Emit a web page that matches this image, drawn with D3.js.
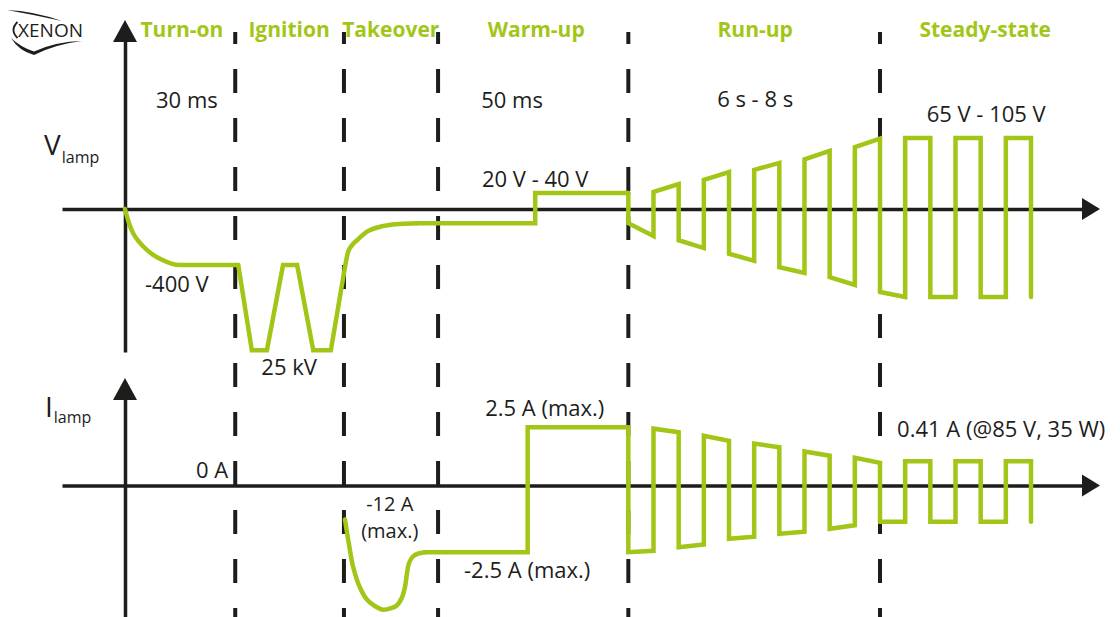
<!DOCTYPE html>
<html>
<head>
<meta charset="utf-8">
<script src="https://cdn.jsdelivr.net/npm/d3@7"></script>
<style>
  html, body { margin: 0; padding: 0; background: #ffffff; }
  svg { display: block; }
  text { font-family: "Open Sans", "Noto Sans", sans-serif; }
</style>
</head>
<body>
<svg id="chart" width="1120" height="617"></svg>
<script>
// ---- Operating phases of an HID xenon lamp (schematic time units) ----
const phaseNames   = ["Turn-on", "Ignition", "Takeover", "Warm-up", "Run-up", "Steady-state"];
const phaseCentres = [11.3, 32.6, 52.8, 81.7, 125.2, 170.9];
const phaseBounds  = [21.9, 43.5, 62.2, 100, 150];

// ---- Lamp voltage, schematic level units: [time, level] ----
const vTurnOn   = [[0, 0], [0.8, -2.0], [1.6, -3.4], [2.9, -4.7], [4.4, -5.8], [5.9, -6.6],
                   [7.5, -7.2], [9.2, -7.7], [10.9, -7.9], [22.5, -7.9]];
const vIgnition = [[22.5, -7.9], [25.2, -19.9], [28.2, -19.9], [31.4, -7.9], [34.2, -7.9],
                   [37.4, -19.9], [40.9, -19.9], [43.7, -8.2]];
const vTakeover = [[43.7, -8.2], [44.3, -6.1], [45.1, -5.1], [46.1, -4.4], [48.1, -3.2],
                   [50.7, -2.5], [54.6, -2.1], [58, -2]];
const vWarmUp   = [[58, -2], [81.5, -2], [81.5, 2.25], [100, 2.25]];
const vRunUp    = [[100, 2.25], [100, -2], [105, -3.8], [105, 2.4], [110, 3.5], [110, -4.4],
                   [115, -5.5], [115, 4.1], [120, 5.2], [120, -6.3], [125, -7.3], [125, 5.5],
                   [130, 6.5], [130, -8.2], [135, -9.0], [135, 7.0], [140, 8.2], [140, -9.6],
                   [145, -10.7], [145, 8.7], [150, 9.9], [150, -11.7]];
const vSteady   = [[150, -11.7], [155, -12.4], [155, 10], [160, 10], [160, -12.4], [165, -12.4],
                   [165, 10], [170, 10], [170, -12.4], [175, -12.4], [175, 10], [180, 10], [180, -12.4]];

// ---- Lamp current, schematic level units: [time, level] ----
const iTakeover = [[43.7, -4.8], [44.5, -8.3], [45.3, -11.4], [46.7, -14.4], [48.1, -16.1],
                   [49.7, -17.0], [51.3, -17.5], [52.8, -17.3], [54.0, -16.9], [55.0, -15.8],
                   [55.6, -14.4], [56.0, -12.5], [56.4, -11.0], [57.2, -10.0], [58.2, -9.6], [59.6, -9.4]];
const iWarmUp   = [[59.6, -9.4], [80, -9.4], [80, 8.2], [100, 8.2]];
const iRunUp    = [[100, 8.2], [100, -9.4], [105, -9.2], [105, 8.0], [110, 7.5], [110, -8.7],
                   [115, -8.3], [115, 7.0], [120, 6.3], [120, -7.5], [125, -7.2], [125, 5.9],
                   [130, 5.4], [130, -6.8], [135, -6.5], [135, 4.8], [140, 4.2], [140, -6.1],
                   [145, -5.6], [145, 3.9], [150, 3.2], [150, -5.1]];
const iSteady   = [[150, -5.1], [155, -5.1], [155, 3.4], [160, 3.4], [160, -5.1], [165, -5.1],
                   [165, 3.4], [170, 3.4], [170, -5.1], [175, -5.1], [175, 3.4], [180, 3.4], [180, -5.1]];

// ---- Annotation texts ----
const vNotes = [
  { text: "30 ms",        t: 12.3,  v: 14.2,  anchor: "middle", size: 22 },
  { text: "50 ms",        t: 76.9,  v: 14.2,  anchor: "middle", size: 22 },
  { text: "6 s - 8 s",    t: 125.2, v: 14.4,  anchor: "middle", size: 22 },
  { text: "65 V - 105 V", t: 171.1, v: 12.25, anchor: "middle", size: 22 },
  { text: "20 V - 40 V",  t: 81.5,  v: 3.1,   anchor: "middle", size: 22 },
  { text: "-400 V",       t: 10.3,  v: -11.7, anchor: "middle", size: 22 },
  { text: "25 kV",        t: 32.6,  v: -23.4, anchor: "middle", size: 22 }
];
const iNotes = [
  { text: "0 A",                  t: 20.5,  v: 1.06,  anchor: "end",    size: 22 },
  { text: "-12 A",                t: 52.6,  v: -3.6,  anchor: "middle", size: 20 },
  { text: "(max.)",               t: 52.6,  v: -7.4,  anchor: "middle", size: 20 },
  { text: "2.5 A (max.)",         t: 83.4,  v: 9.8,   anchor: "middle", size: 22 },
  { text: "-2.5 A (max.)",        t: 79.9,  v: -13.0, anchor: "middle", size: 22 },
  { text: "0.41 A (@85 V, 35 W)", t: 153.4, v: 6.8,   anchor: "start",  size: 22 }
];

// ---- Drawing ----
const W = 1120, H = 617;
const ink = "#1d1d1b", green = "#a2c617";
const svg = d3.select("#chart");

const x  = d3.scaleLinear().domain([0, 150]).range([125, 880]);
const yV = d3.scaleLinear().domain([0, 10]).range([209, 138]);
const yI = d3.scaleLinear().domain([0, 10]).range([485.5, 414.5]);

const axisStart = 62, axisEnd = 1084, arrowTip = 1100;

// phase boundaries
svg.append("g").selectAll("line").data(phaseBounds).join("line")
  .attr("x1", d => x(d)).attr("x2", d => x(d))
  .attr("y1", 32).attr("y2", H)
  .attr("stroke", ink).attr("stroke-width", 4)
  .attr("stroke-dasharray", "24 25").attr("stroke-dashoffset", 12);

// horizontal axes with arrowheads
function timeAxis(yScale) {
  const y0 = yScale(0);
  const s = x.copy().domain([x.invert(axisStart), x.invert(axisEnd)]).range([axisStart, axisEnd]);
  svg.append("g").attr("transform", `translate(0,${y0})`)
    .call(d3.axisBottom(s).tickValues([]).tickSizeOuter(0))
    .call(g => g.select(".domain").attr("stroke", ink).attr("stroke-width", 3.5));
  svg.append("path")
    .attr("d", `M${arrowTip},${y0}L${arrowTip - 18},${y0 - 11}L${arrowTip - 18},${y0 + 11}Z`)
    .attr("fill", ink);
}
// vertical axes with arrowheads
function levelAxis(tipY, bottomY) {
  const s = d3.scaleLinear().domain([0, 1]).range([bottomY, tipY + 18]);
  svg.append("g").attr("transform", `translate(${x(0)},0)`)
    .call(d3.axisLeft(s).tickValues([]).tickSizeOuter(0))
    .call(g => g.select(".domain").attr("stroke", ink).attr("stroke-width", 3.5));
  const cx = x(0);
  svg.append("path")
    .attr("d", `M${cx},${tipY}L${cx - 12},${tipY + 22}L${cx + 12},${tipY + 22}Z`)
    .attr("fill", ink);
}
timeAxis(yV);
timeAxis(yI);
levelAxis(20, 352);
levelAxis(378, H);

// waveforms
function trace(points, yScale, curve) {
  const line = d3.line().x(d => x(d[0])).y(d => yScale(d[1])).curve(curve);
  svg.append("path").datum(points)
    .attr("d", line)
    .attr("fill", "none")
    .attr("stroke", green)
    .attr("stroke-width", 4.5)
    .attr("stroke-linejoin", "miter")
    .attr("stroke-linecap", "round");
}
trace(vTurnOn,   yV, d3.curveMonotoneX);
trace(vIgnition, yV, d3.curveLinear);
trace(vTakeover, yV, d3.curveMonotoneX);
trace(vWarmUp,   yV, d3.curveLinear);
trace(vRunUp,    yV, d3.curveLinear);
trace(vSteady,   yV, d3.curveLinear);
trace(iTakeover, yI, d3.curveCatmullRom);
trace(iWarmUp,   yI, d3.curveLinear);
trace(iRunUp,    yI, d3.curveLinear);
trace(iSteady,   yI, d3.curveLinear);

// phase headers
svg.append("g").selectAll("text").data(phaseNames).join("text")
  .attr("x", (d, i) => x(phaseCentres[i]))
  .attr("y", 37)
  .attr("text-anchor", "middle")
  .attr("font-size", 21)
  .attr("font-weight", 700)
  .attr("fill", green)
  .text(d => d);

// annotations
function notes(list, yScale) {
  svg.append("g").selectAll("text").data(list).join("text")
    .attr("x", d => x(d.t))
    .attr("y", d => yScale(d.v))
    .attr("text-anchor", d => d.anchor)
    .attr("font-size", d => d.size)
    .attr("fill", ink)
    .text(d => d.text);
}
notes(vNotes, yV);
notes(iNotes, yI);

// quantity labels
const vLab = svg.append("text").attr("x", 44).attr("y", 155).attr("fill", ink);
vLab.append("tspan").attr("font-size", 28).text("V");
vLab.append("tspan").attr("font-size", 16).attr("dy", 8).attr("dx", 1).text("lamp");
const iLab = svg.append("text").attr("x", 45).attr("y", 417).attr("fill", ink);
iLab.append("tspan").attr("font-size", 28).text("I");
iLab.append("tspan").attr("font-size", 16).attr("dy", 6).attr("dx", 1).text("lamp");

// brand mark
const logo = svg.append("g");
logo.append("path")
  .attr("d", "M7,10 Q33,11 62,21 Q35,15 7,10 Z")
  .attr("fill", ink);
logo.append("path")
  .attr("d", "M17.5,22 Q9.5,30 17.5,38")
  .attr("fill", "none").attr("stroke", ink).attr("stroke-width", 1.8);
logo.append("path")
  .attr("d", "M11,38 Q19,51 34,55 Q56,44 82,41 Q56,41.5 34,51.5 Q21,47.5 11,38 Z")
  .attr("fill", ink);
logo.append("text")
  .attr("x", 18).attr("y", 37)
  .attr("font-size", 18)
  .attr("textLength", 65)
  .attr("lengthAdjust", "spacingAndGlyphs")
  .attr("fill", ink)
  .text("XENON");
</script>
</body>
</html>
